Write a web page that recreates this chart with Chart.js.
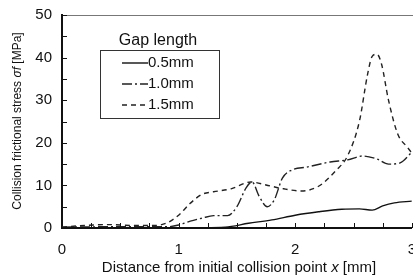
<!DOCTYPE html>
<html>
<head>
<meta charset="utf-8">
<script src="https://cdn.jsdelivr.net/npm/chart.js@4"></script>
<style>
  html, body { margin: 0; padding: 0; background: #fff; overflow: hidden; }
  #wrap { width: 429px; height: 279px; }
</style>
</head>
<body>
<div id="wrap"><canvas id="chart"></canvas></div>
<script>
// données
const gapLabels = ["0.5mm", "1.0mm", "1.5mm"];

const x05 = [0, 0.5, 1.0, 1.4, 1.6, 1.8, 2.0, 2.2, 2.4, 2.55, 2.66, 2.75, 2.85, 3.0];
const y05 = [0, 0, 0, 0.2, 1.1, 1.9, 3.0, 3.8, 4.4, 4.5, 4.2, 5.2, 5.9, 6.3];

const x10 = [0, 0.5, 0.9, 1.0, 1.1, 1.2, 1.3, 1.42, 1.5, 1.58, 1.63, 1.69, 1.76, 1.82, 1.89, 1.97, 2.1, 2.3, 2.45, 2.58, 2.7, 2.8, 2.9, 3.0];
const y10 = [0.2, 0.3, 0.3, 0.7, 1.6, 2.3, 2.9, 2.9, 5, 9.5, 10.8, 7.5, 5, 6.6, 11.7, 13.6, 14.3, 15.5, 16, 16.9, 16.2, 15, 15.3, 17.8];

const x15 = [0, 0.2, 0.4, 0.6, 0.8, 0.9, 1.0, 1.1, 1.2, 1.3, 1.45, 1.62, 1.75, 1.9, 2.05, 2.2, 2.35, 2.45, 2.55, 2.62, 2.66, 2.7, 2.74, 2.8, 2.88, 2.96, 3.0];
const y15 = [0.2, 0.6, 0.8, 0.6, 0.6, 1.2, 3, 5.8, 7.9, 8.5, 9.2, 10.8, 10.1, 9.2, 8.7, 9.8, 13.5, 17, 25, 36, 40.3, 40.8, 38.5, 30, 22, 19, 17.6];

const xTicks = [0, 1, 2, 3];
const yTicks = [0, 10, 20, 30, 40, 50];

const FONT = "'Liberation Sans', Arial, sans-serif";
const toPts = (xs, ys) => xs.map((x, i) => ({ x: x, y: ys[i] }));

// petits traits intérieurs + bordure haute + légende + titres
const decorPlugin = {
    id: "decor",
    afterDraw(chart) {
        const ctx = chart.ctx;
        const a = chart.chartArea;
        const xs = chart.scales.x, ys = chart.scales.y;
        ctx.save();

        // bordure haute
        ctx.strokeStyle = "#777";
        ctx.lineWidth = 1;
        ctx.beginPath();
        ctx.moveTo(a.left, a.top + 0.5);
        ctx.lineTo(a.right + 5, a.top + 0.5);
        ctx.stroke();

        // graduations
        ctx.strokeStyle = "#111";
        ctx.lineWidth = 1;
        for (let v = 0.25; v <= 3; v += 0.25) {
            const px = Math.round(xs.getPixelForValue(v)) + 0.5;
            ctx.beginPath();
            ctx.moveTo(px, a.bottom);
            ctx.lineTo(px, a.bottom - 5);
            ctx.stroke();
        }
        for (let v = 5; v <= 50; v += 5) {
            const py = Math.round(ys.getPixelForValue(v)) + 0.5;
            ctx.beginPath();
            ctx.moveTo(a.left, py);
            ctx.lineTo(a.left + 5, py);
            ctx.stroke();
        }

        // titre axe X
        ctx.fillStyle = "#111";
        ctx.textBaseline = "middle";
        const xParts = [
            { t: "Distance from initial collision point ", f: "15px " + FONT },
            { t: "x", f: "italic 15px " + FONT },
            { t: " [mm]", f: "15px " + FONT }
        ];
        drawParts(ctx, xParts, 239, 268);

        // titre axe Y
        ctx.save();
        ctx.translate(18, 121);
        ctx.rotate(-Math.PI / 2);
        const yParts = [
            { t: "Collision frictional stress ", f: "12px " + FONT },
            { t: "σf", f: "italic 12px " + FONT },
            { t: " [MPa]", f: "12px " + FONT }
        ];
        drawParts(ctx, yParts, 0, 0);
        ctx.restore();

        // légende
        ctx.font = "16px " + FONT;
        ctx.textAlign = "center";
        ctx.fillText("Gap length", 158, 41);
        ctx.strokeStyle = "#333";
        ctx.lineWidth = 1;
        ctx.strokeRect(100.5, 50.5, 119, 68);
        ctx.font = "15px " + FONT;
        ctx.textAlign = "left";
        chart.data.datasets.forEach((ds, i) => {
            const yy = 63 + i * 21;
            ctx.strokeStyle = ds.borderColor;
            ctx.lineWidth = ds.borderWidth;
            ctx.setLineDash(ds.borderDash || []);
            ctx.beginPath();
            ctx.moveTo(122, yy);
            ctx.lineTo(148, yy);
            ctx.stroke();
            ctx.setLineDash([]);
            ctx.fillStyle = "#111";
            ctx.fillText(ds.label, 148, yy);
        });
        ctx.restore();
    }
};

function drawParts(ctx, parts, cx, cy) {
    let total = 0;
    parts.forEach(p => { ctx.font = p.f; total += ctx.measureText(p.t).width; });
    let x = cx - total / 2;
    ctx.textAlign = "left";
    parts.forEach(p => {
        ctx.font = p.f;
        ctx.fillText(p.t, x, cy);
        x += ctx.measureText(p.t).width;
    });
}

const styles = [
    { color: "#111", dash: [] },
    { color: "#222", dash: [10, 3, 2, 3] },
    { color: "#222", dash: [5, 4] }
];

new Chart(document.getElementById("chart"), {
    type: "line",
    data: {
        datasets: [toPts(x05, y05), toPts(x10, y10), toPts(x15, y15)].map((d, i) => ({
            label: gapLabels[i],
            data: d,
            borderColor: styles[i].color,
            borderWidth: 1.4,
            borderDash: styles[i].dash,
            pointRadius: 0,
            cubicInterpolationMode: "monotone",
            fill: false
        }))
    },
    options: {
        responsive: true,
        maintainAspectRatio: false,
        animation: false,
        layout: { padding: { top: 15, right: 0, left: 0, bottom: 0 } },
        plugins: { legend: { display: false }, tooltip: { enabled: false } },
        scales: {
            x: {
                type: "linear",
                min: 0, max: 3,
                afterBuildTicks: s => { s.ticks = xTicks.map(v => ({ value: v })); },
                afterFit: s => { s.height = 51; },
                grid: { display: false, drawTicks: false },
                border: { color: "#111", width: 2 },
                ticks: { padding: 13, color: "#111", font: { family: FONT, size: 15 }, maxRotation: 0 }
            },
            y: {
                min: 0, max: 50,
                afterBuildTicks: s => { s.ticks = yTicks.map(v => ({ value: v })); },
                afterFit: s => { s.width = 62; s.paddingTop = 0; s.paddingBottom = 0; },
                grid: { display: false, drawTicks: false },
                border: { color: "#111", width: 2 },
                ticks: { padding: 10, color: "#111", font: { family: FONT, size: 15 } }
            }
        }
    },
    plugins: [decorPlugin]
});
</script>
</body>
</html>
